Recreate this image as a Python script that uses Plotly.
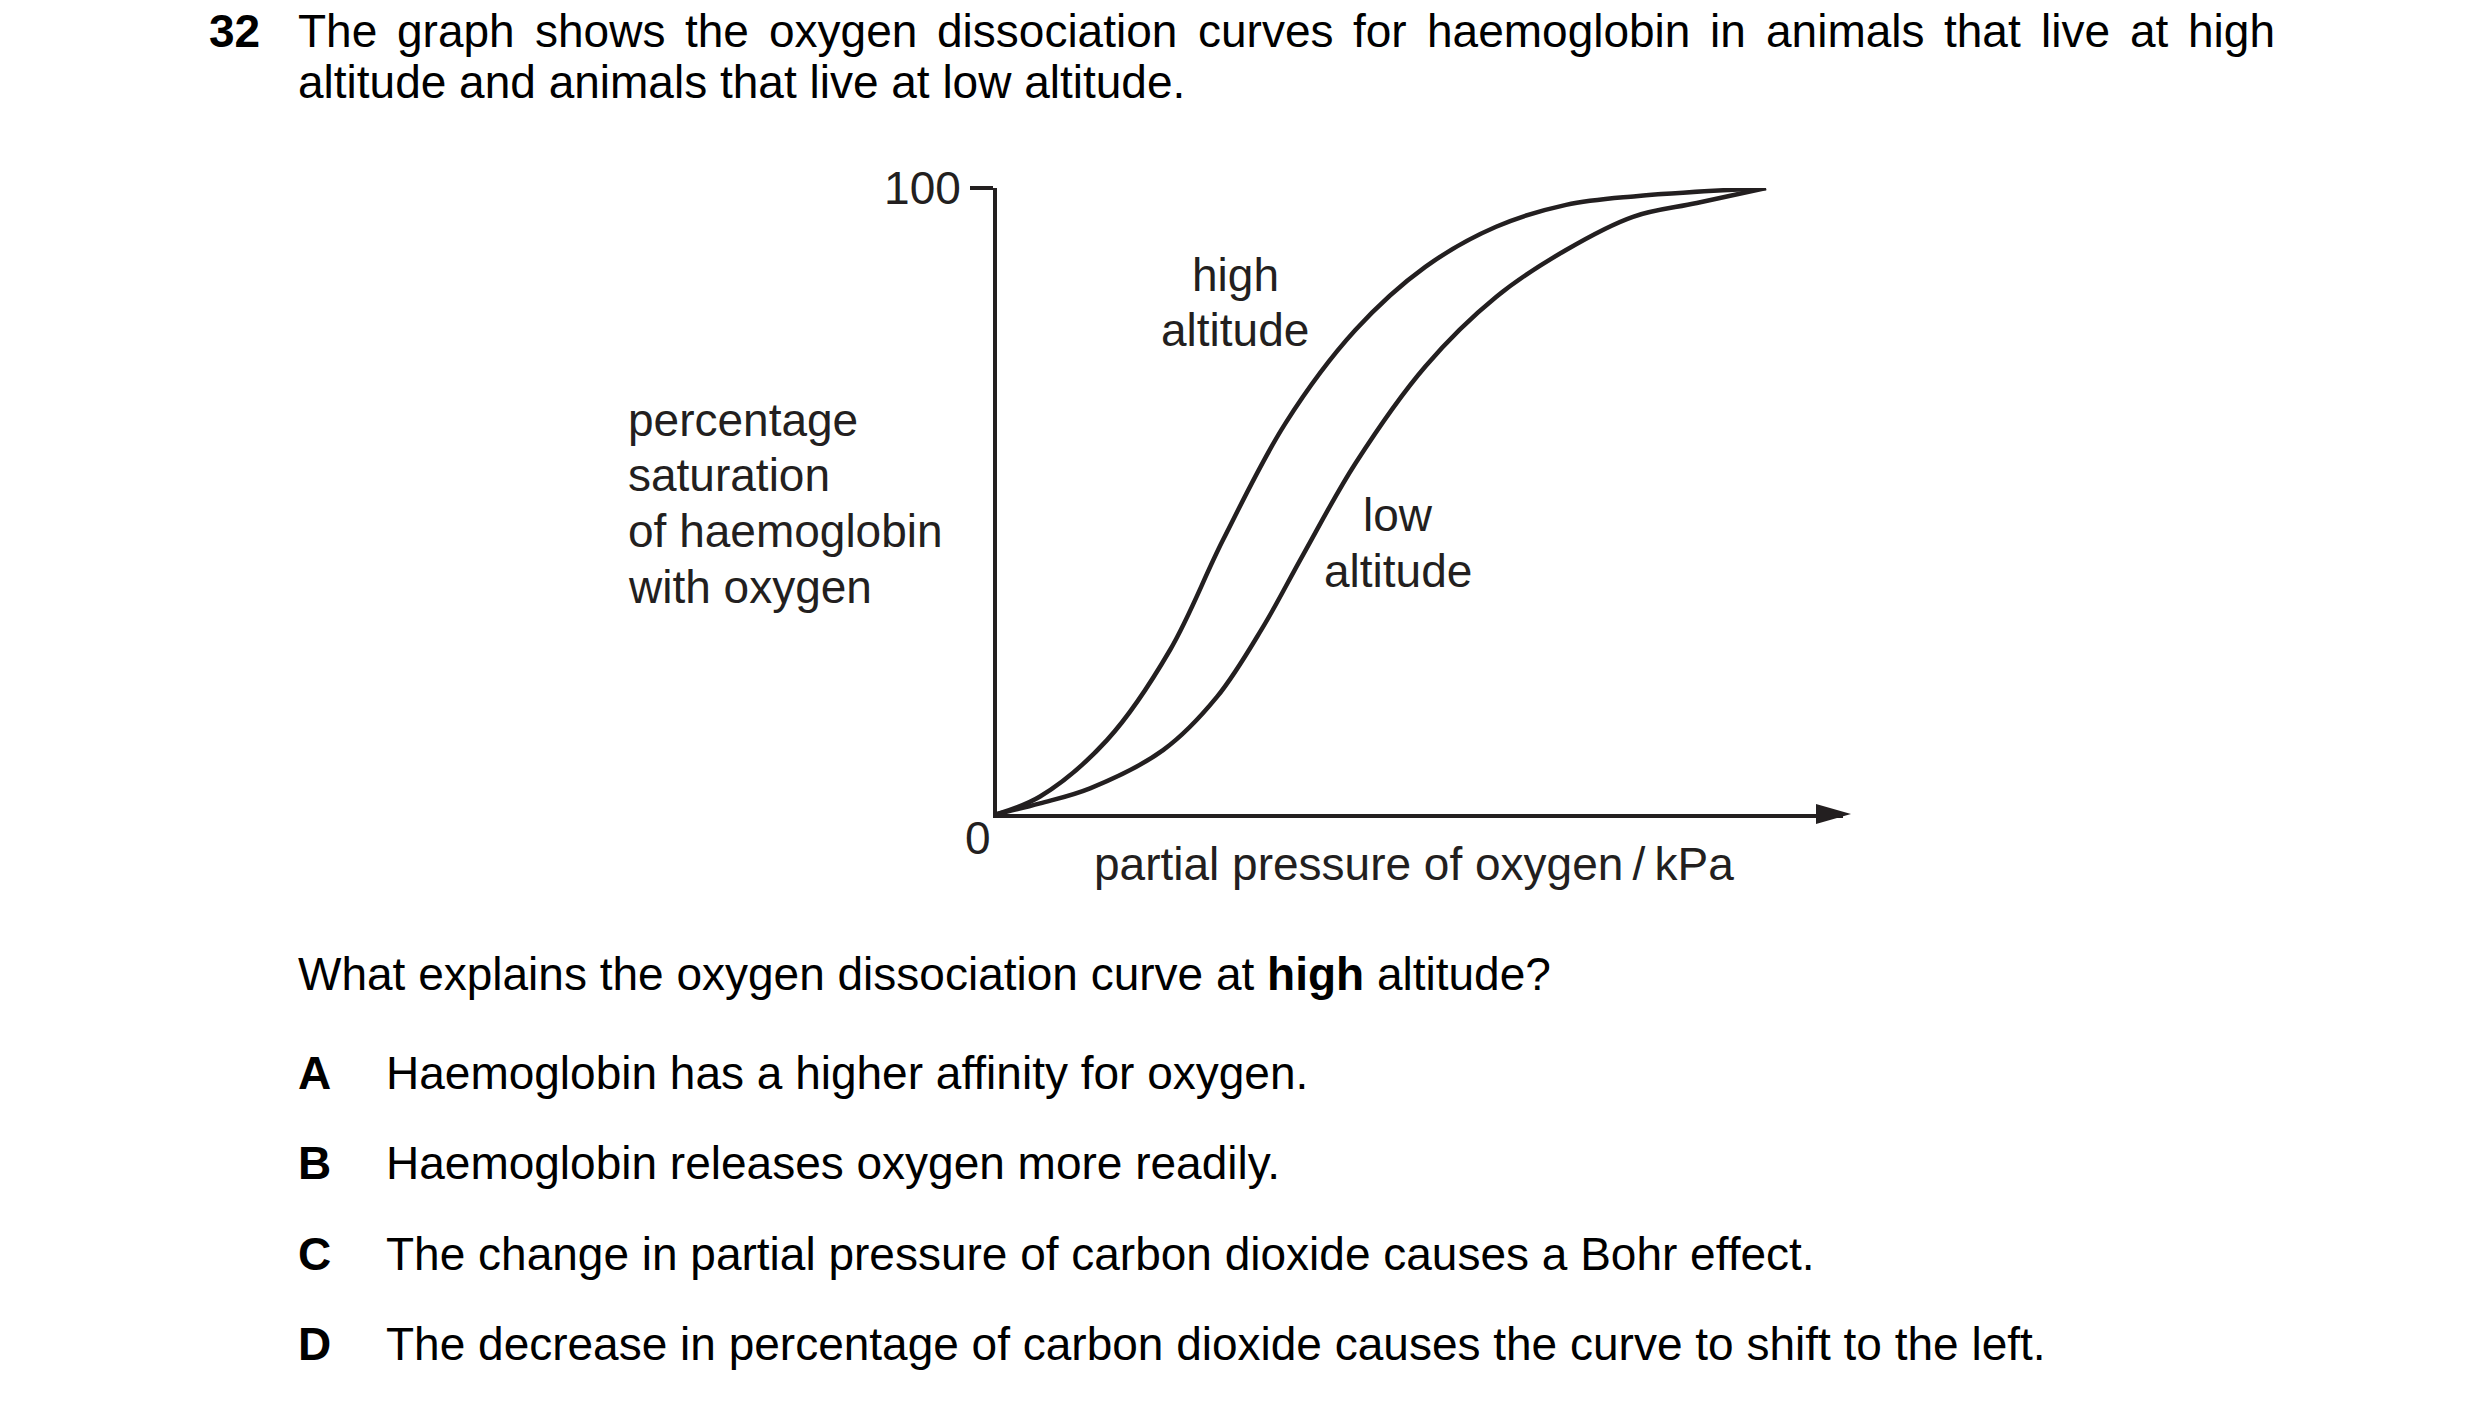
import plotly.graph_objects as go

# ---- data (arbitrary pressure units, 100 = end of curves) ----
pressure_high = [0, 5.6, 14.3, 22.5, 29.4, 37.5, 46.6, 55.7, 64.9, 74.0, 83.1, 100]
saturation_high = [0, 2.8, 11.8, 26.2, 43.8, 62.4, 77.3, 87.4, 93.8, 97.3, 98.7, 100]

pressure_low = [0, 5.6, 12.1, 21.6, 28.6, 34.6, 39.8, 46.6, 55.7, 64.9, 74.0, 82.7, 91.0, 100]
saturation_low = [0, 1.7, 4.1, 10.2, 18.7, 29.9, 41.4, 56.0, 71.5, 82.6, 90.1, 95.4, 97.6, 100]

y_tick_values = [100]
y_tick_labels = ['100']

y_label_lines = ['percentage', 'saturation', 'of haemoglobin', 'with oxygen']
x_label = 'partial pressure of oxygen\u2009/\u2009kPa'

question_no = '32'
intro_line1 = 'The graph shows the oxygen dissociation curves for haemoglobin in animals that live at high'
intro_line2 = 'altitude and animals that live at low altitude.'
question = 'What explains the oxygen dissociation curve at <b>high</b> altitude?'
option_letters = ['A', 'B', 'C', 'D']
option_texts = [
    'Haemoglobin has a higher affinity for oxygen.',
    'Haemoglobin releases oxygen more readily.',
    'The change in partial pressure of carbon dioxide causes a Bohr effect.',
    'The decrease in percentage of carbon dioxide causes the curve to shift to the left.',
]


W, H = 2480, 1408
FONT = 'Liberation Sans, Arial, Helvetica, sans-serif'
INK = '#231f20'
FS = 46


def px(x):
    return x / W


def py(y):
    return 1 - y / H


# Arial advance widths (1/1000 em), used to justify the first line
ARIAL = {'a': 556, 'b': 556, 'c': 500, 'd': 556, 'e': 556, 'f': 278, 'g': 556, 'h': 556,
         'i': 222, 'j': 222, 'k': 500, 'l': 222, 'm': 833, 'n': 556, 'o': 556, 'p': 556,
         'q': 556, 'r': 333, 's': 500, 't': 278, 'u': 556, 'v': 500, 'w': 722, 'x': 500,
         'y': 500, 'z': 500, 'T': 611}


def word_width(word, size):
    return sum(ARIAL.get(ch, 556) for ch in word) * size / 1000


def text(txt, x, y, anchor='left', color='black', size=FS):
    return dict(text=txt, x=px(x), y=py(y), xref='paper', yref='paper',
                xanchor=anchor, yanchor='middle', showarrow=False,
                font=dict(family=FONT, size=size, color=color))


# plot area in pixels
X0, X_LINE_END, X_TIP = 997, 1843, 1851
Y0, Y100 = 814, 188
X100 = 1766
x_max = 100 * (X_LINE_END - X0) / (X100 - X0)

fig = go.Figure()

for xs, ys in [(pressure_high, saturation_high), (pressure_low, saturation_low)]:
    fig.add_trace(go.Scatter(x=xs, y=ys, mode='lines',
                             line=dict(color=INK, width=4.5, shape='spline', smoothing=1),
                             cliponaxis=False, hoverinfo='none'))

annotations = []

# question header
annotations.append(text('<b>' + question_no + '</b>', 207, 31))
words = intro_line1.split(' ')
left, right = 296, 2273
widths = [word_width(w, FS) for w in words]
gap = (right - left - sum(widths)) / (len(words) - 1)
pos = left
for w, wd in zip(words, widths):
    annotations.append(text(w, pos, 31))
    pos += wd + gap
annotations.append(text(intro_line2, 296, 82))

# graph labels
for k, line in enumerate(y_label_lines):
    annotations.append(text(line, 626, 420 + k * 55.5, color=INK))
annotations.append(text('0', 978, 838, anchor='center', color=INK))
annotations.append(text(x_label, 1092, 864, color=INK))
annotations.append(text('high', 1235, 275, anchor='center', color=INK))
annotations.append(text('altitude', 1235, 330, anchor='center', color=INK))
annotations.append(text('low', 1398, 515, anchor='center', color=INK))
annotations.append(text('altitude', 1398, 571, anchor='center', color=INK))

# question and options
annotations.append(text(question, 296, 974))
for k, (letter, option) in enumerate(zip(option_letters, option_texts)):
    yy = 1073 + k * 90.4
    annotations.append(text('<b>' + letter + '</b>', 296, yy))
    annotations.append(text(option, 384, yy))

fig.update_layout(
    width=W,
    height=H,
    margin=dict(l=0, r=0, t=0, b=0),
    paper_bgcolor='white',
    plot_bgcolor='white',
    showlegend=False,
    xaxis=dict(domain=[px(X0), px(X_LINE_END)], range=[0, x_max], automargin=False,
               showline=True, linewidth=4, linecolor=INK,
               showgrid=False, zeroline=False, showticklabels=False, ticks=''),
    yaxis=dict(domain=[py(Y0), py(Y100)], range=[0, 100], automargin=False,
               showline=True, linewidth=4, linecolor=INK,
               showgrid=False, zeroline=False,
               tickvals=y_tick_values, ticktext=y_tick_labels,
               ticks='outside', ticklen=23, tickwidth=4, tickcolor=INK,
               ticklabelstandoff=0,
               tickfont=dict(family=FONT, size=FS, color=INK)),
    annotations=annotations,
    shapes=[dict(type='path', xref='paper', yref='paper',
                 xsizemode='pixel', ysizemode='pixel',
                 xanchor=px(X_TIP), yanchor=py(Y0),
                 path='M0,0 L-35,-10 L-35,10 Z',
                 fillcolor=INK, line=dict(width=0))],
)

fig.write_html("out.html", config={'displayModeBar': False},
               post_script="document.body.style.margin='0';document.body.style.overflow='hidden';")
